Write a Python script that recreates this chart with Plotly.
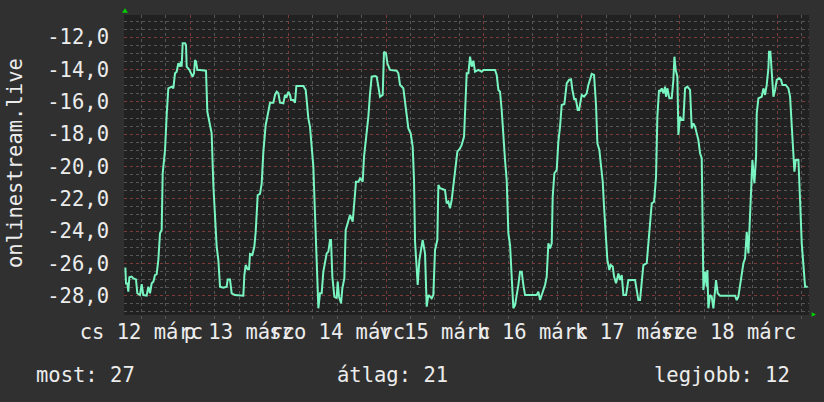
import plotly.graph_objects as go

# ---- data: time in hours since 12 March 00:00, value of the series ----
hours_d1 = [8.07, 8.23, 8.56, 8.80, 9.05, 9.62, 10.03, 10.68, 11.01, 11.66,
            12.07, 12.48, 13.30, 13.71, 14.12, 14.53, 14.94, 15.34, 15.75, 16.16,
            16.57, 16.98, 17.23, 17.80, 18.21, 18.61, 19.43, 19.84, 20.25, 20.66,
            21.07, 21.48, 21.72, 21.88, 22.13, 22.70, 22.95, 23.11, 23.77, 24.09,
            24.58, 24.91, 25.15, 25.40, 25.73, 26.38, 27.85, 28.18, 28.43, 28.83,
            29.24, 29.65, 30.22, 30.47, 30.88, 31.29, 32.10, 32.92, 33.17, 33.74,
            34.15, 34.97]
values_d1 = [-26.25, -27.24, -27.24, -27.75, -26.86, -26.82, -26.93, -26.99, -27.85, -27.96,
             -27.28, -27.96, -28.00, -27.44, -27.85, -27.23, -27.13, -26.72, -26.66, -25.79,
             -24.14, -23.93, -20.42, -18.98, -16.81, -15.16, -15.06, -15.16, -14.23, -14.13,
             -13.61, -13.82, -13.51, -13.82, -12.37, -12.37, -12.48, -13.82, -14.02, -14.23,
             -14.44, -14.23, -13.41, -13.51, -14.02, -14.02, -14.07, -16.60, -16.91, -17.33,
             -17.95, -21.15, -24.35, -24.96, -25.79, -27.44, -27.50, -27.44, -26.99, -26.99,
             -27.85, -27.96]

hours_d2 = [37.01, 37.26, 37.58, 38.07, 38.40, 38.65, 39.22, 39.71, 40.04, 40.53,
            41.10, 41.51, 41.92, 42.49, 42.98, 43.55, 44.37, 44.78, 45.19, 45.60,
            46.00, 46.82, 47.23, 47.64, 48.05, 48.46, 48.70, 49.27, 49.68, 50.01,
            51.73, 52.30, 52.54, 52.95, 53.36, 53.77, 54.18, 54.59, 55.00, 55.41,
            55.81, 56.22, 56.63, 57.04, 57.45, 57.86, 58.27, 58.51, 58.84, 59.33,
            59.90, 60.15, 60.47, 60.97, 61.29, 61.78, 62.11, 62.60, 63.17]
values_d2 = [-28.00, -26.72, -26.10, -26.37, -26.37, -25.42, -25.48, -24.96, -24.04, -21.77,
             -21.70, -21.04, -19.08, -17.43, -16.81, -16.05, -16.05, -15.57, -15.37, -15.47,
             -16.05, -16.09, -15.57, -15.68, -15.37, -15.57, -15.88, -15.88, -16.05, -15.02,
             -15.02, -15.26, -15.88, -17.02, -17.53, -18.77, -20.01, -23.00, -25.99, -28.78,
             -27.85, -27.85, -26.51, -25.79, -25.38, -25.27, -24.55, -24.55, -26.82, -28.06,
             -28.16, -27.13, -28.06, -28.47, -27.54, -26.93, -23.93, -23.52, -23.00]

hours_d3 = [63.83, 64.15, 64.64, 65.22, 65.63, 66.28, 66.61, 67.10, 67.67, 68.08,
            68.49, 69.30, 69.71, 70.12, 70.53, 71.19, 71.51, 72.00, 72.33, 72.98,
            74.62, 75.03, 75.44, 76.25, 76.66, 77.07, 77.48, 78.05, 78.54, 78.87,
            79.12, 79.53, 79.77, 80.18, 80.51, 80.99, 81.57, 81.98, 82.39, 82.80,
            83.20, 83.61, 84.02, 84.59, 84.84, 85.25, 86.47, 86.88, 87.29, 87.70,
            88.11, 88.68, 89.17, 89.50, 90.15, 90.56, 91.14]
values_d3 = [-23.42, -22.28, -20.94, -20.94, -20.73, -20.94, -19.39, -18.26, -16.91, -15.47,
             -14.44, -14.40, -14.44, -15.06, -15.68, -15.57, -12.89, -12.99, -13.61, -14.02,
             -14.07, -14.23, -14.95, -15.16, -16.09, -16.81, -17.64, -17.95, -18.77, -20.84,
             -24.65, -26.31, -27.34, -25.79, -25.27, -24.55, -25.38, -28.68, -27.96, -28.06,
             -28.16, -27.96, -25.17, -24.55, -21.15, -21.35, -21.46, -22.28, -22.18, -22.59,
             -22.07, -20.84, -19.80, -19.08, -18.88, -18.67, -18.15]

hours_d4 = [91.79, 92.20, 92.61, 93.02, 93.42, 93.83, 94.65, 95.47, 95.88, 98.74,
            99.15, 99.56, 99.96, 100.37, 100.78, 101.19, 101.60, 102.01, 102.42, 102.83,
            103.23, 103.64, 104.05, 104.46, 104.87, 105.28, 105.69, 106.10, 108.96, 109.37,
            109.78, 110.35, 111.00, 111.41, 111.82, 112.23, 112.64, 112.88, 113.29, 113.86,
            114.27, 114.68, 115.09, 115.74, 116.32, 116.89, 117.38, 117.71, 118.20, 118.52,
            119.02, 119.34, 119.83]
values_d4 = [-14.23, -14.23, -13.20, -13.82, -13.45, -14.13, -14.02, -14.13, -14.02, -14.02,
             -14.33, -15.26, -15.37, -16.50, -18.46, -19.60, -20.84, -24.14, -24.86, -26.82,
             -28.78, -28.58, -28.06, -27.34, -26.51, -26.51, -27.34, -27.96, -27.96, -27.75,
             -28.27, -27.85, -27.34, -26.82, -24.76, -25.07, -24.76, -21.87, -20.42, -20.22,
             -18.46, -17.53, -16.19, -16.13, -14.85, -14.64, -14.60, -15.26, -15.88, -15.78,
             -16.50, -16.50, -15.78]

hours_d5 = [120.00, 120.57, 121.22, 121.63, 122.04, 122.45, 123.02, 123.51, 123.84, 124.33,
            124.66, 125.15, 125.47, 125.96, 126.29, 126.78, 127.11, 127.60, 127.93, 128.42,
            128.99, 129.40, 129.81, 130.22, 130.87, 131.44, 133.08, 133.49, 133.89, 134.30,
            134.71, 135.12, 135.94, 136.35, 136.76, 137.17, 137.74, 138.23, 138.55, 138.96,
            139.21, 139.62, 140.03, 140.44, 140.68, 141.01, 141.50, 142.07, 142.48, 142.73,
            143.05, 143.46, 143.71, 144.11, 144.52, 144.93, 145.34, 145.91, 146.57, 146.98,
            147.39, 147.79]
values_d5 = [-15.57, -15.68, -15.47, -14.95, -14.64, -14.27, -14.33, -16.19, -18.57, -18.98,
             -19.80, -20.94, -22.49, -24.76, -25.79, -26.41, -26.10, -26.20, -26.82, -27.23,
             -26.62, -27.03, -26.72, -27.96, -27.96, -27.03, -27.03, -27.65, -28.27, -28.27,
             -27.23, -26.10, -25.99, -24.76, -23.93, -22.28, -22.18, -20.63, -16.91, -15.26,
             -15.37, -15.16, -15.47, -15.06, -15.68, -15.16, -15.78, -15.78, -14.64, -13.20,
             -14.02, -14.44, -18.05, -16.91, -17.12, -17.12, -15.16, -15.06, -15.26, -17.64,
             -17.33, -17.53]

hours_d6 = [148.20, 148.61, 149.02, 149.43, 149.59, 149.84, 150.25, 150.66, 150.82, 151.06,
            151.47, 151.88, 152.29, 152.70, 152.94, 153.35, 153.93, 157.61, 158.01, 158.42,
            158.83, 159.24, 159.65, 160.06, 160.47, 160.88, 161.12, 161.53, 161.86, 162.35,
            162.76, 162.92, 163.33, 164.15, 164.56, 164.96, 165.37, 165.78, 165.94, 166.27,
            166.60, 167.01, 167.42, 167.83, 168.40, 168.89, 169.22, 170.03, 170.69, 171.10,
            171.50, 171.91, 172.16, 172.49, 173.15, 173.55, 173.96, 174.37, 174.78, 175.43]
values_d6 = [-17.95, -18.36, -19.18, -19.49, -22.38, -27.65, -26.51, -27.44, -26.41, -28.78,
             -27.96, -28.06, -28.78, -27.65, -27.03, -27.85, -28.00, -28.00, -28.27, -28.06,
             -27.44, -26.82, -25.99, -25.69, -24.04, -25.38, -23.93, -22.49, -19.60, -21.04,
             -19.39, -16.71, -15.78, -15.68, -15.16, -15.57, -14.95, -13.92, -12.89, -12.89,
             -14.23, -15.68, -15.26, -14.64, -14.54, -14.64, -14.95, -14.95, -15.16, -15.68,
             -17.43, -19.60, -20.32, -19.60, -19.60, -22.07, -24.76, -26.10, -27.44, -27.44]

x_tickvals = [12, 36, 60, 84, 108, 132, 156]
x_ticktext = ["cs 12 márc", "p 13 márc", "szo 14 márc", "v 15 márc",
              "h 16 márc", "k 17 márc", "sze 18 márc"]
y_tickvals = [-12, -14, -16, -18, -20, -22, -24, -26, -28]
y_ticktext = ["-12,0", "-14,0", "-16,0", "-18,0", "-20,0", "-22,0", "-24,0", "-26,0", "-28,0"]
x_range = [7.74, 175.74]
y_range = [-29.195, -10.62]
y_title = "onlinestream.live"
summary_labels = ["most: 27", "átlag: 21", "legjobb: 12"]

hours = hours_d1 + hours_d2 + hours_d3 + hours_d4 + hours_d5 + hours_d6
values = values_d1 + values_d2 + values_d3 + values_d4 + values_d5 + values_d6

FONT = "DejaVu Sans Mono"
TXT = "#ececec"
RED = "#7c3a3a"
GRAY = "#565656"

fig = go.Figure()
fig.add_trace(go.Scatter(x=hours, y=values, mode="lines",
                         line=dict(color="#78f5c0", width=2),
                         hoverinfo="skip", xaxis="x", yaxis="y"))
# transparent copy so that the label axis (x2) is drawn
fig.add_trace(go.Scatter(x=hours, y=values, mode="lines",
                         line=dict(color="rgba(0,0,0,0)", width=0),
                         hoverinfo="skip", xaxis="x2", yaxis="y"))

fig.update_layout(
    width=824, height=402,
    paper_bgcolor="#303030", plot_bgcolor="#212121",
    margin=dict(l=124, r=15, t=15, b=87),
    showlegend=False,
    font=dict(family=FONT, size=20.5, color=TXT),
    xaxis=dict(range=x_range, tickmode="linear", tick0=0, dtick=24,
               showgrid=True, gridcolor=RED, griddash="dot", gridwidth=1,
               showticklabels=False, ticks="", zeroline=False, showline=False,
               automargin=False,
               minor=dict(tickmode="linear", tick0=0, dtick=6, showgrid=True,
                          gridcolor=GRAY, griddash="dot", gridwidth=1,
                          ticks="outside", ticklen=3, tickcolor=GRAY)),
    xaxis2=dict(overlaying="x", anchor="y", side="bottom", range=x_range,
                tickmode="array", tickvals=x_tickvals, ticktext=x_ticktext,
                tickangle=0, showgrid=False, zeroline=False, showline=False,
                ticks="", ticklabelstandoff=2, automargin=False,
                tickfont=dict(family=FONT, size=20.5, color=TXT)),
    yaxis=dict(range=y_range, tickmode="array", tickvals=y_tickvals, ticktext=y_ticktext,
               showgrid=True, gridcolor=RED, griddash="dot", gridwidth=1,
               zeroline=False, showline=False, ticks="", ticklabelstandoff=14,
               automargin=False,
               tickfont=dict(family=FONT, size=20.5, color=TXT),
               minor=dict(tickmode="linear", tick0=-28, dtick=0.5, showgrid=True,
                          gridcolor=GRAY, griddash="dot", gridwidth=1)),
)

fig.add_annotation(text=y_title, xref="paper", yref="paper", x=-0.159, y=0.507,
                   xanchor="center", yanchor="middle", textangle=-90, showarrow=False,
                   font=dict(family=FONT, size=20.5, color=TXT))
fig.add_annotation(text=summary_labels[0], xref="paper", yref="paper", x=-0.1314, y=-0.199,
                   xanchor="left", yanchor="middle", showarrow=False,
                   font=dict(family=FONT, size=20.5, color=TXT))
fig.add_annotation(text=summary_labels[1], xref="paper", yref="paper", x=0.308, y=-0.199,
                   xanchor="left", yanchor="middle", showarrow=False,
                   font=dict(family=FONT, size=20.5, color=TXT))
fig.add_annotation(text=summary_labels[2], xref="paper", yref="paper", x=0.975, y=-0.199,
                   xanchor="right", yanchor="middle", showarrow=False,
                   font=dict(family=FONT, size=20.5, color=TXT))

# axis arrows (decoration)
fig.add_shape(type="path", xref="paper", yref="paper", layer="above",
              path="M 0.0015 1.0223 L -0.0029 1.0077 L 0.0058 1.0077 Z",
              fillcolor="#00d000", line=dict(width=0))
fig.add_shape(type="path", xref="paper", yref="paper", layer="above",
              path="M 1.0102 0.0017 L 1.0039 0.009 L 1.0039 -0.0057 Z",
              fillcolor="#00d000", line=dict(width=0))

fig.write_html("out.html", config={"displayModeBar": False},
               post_script="document.body.style.margin='0';")
